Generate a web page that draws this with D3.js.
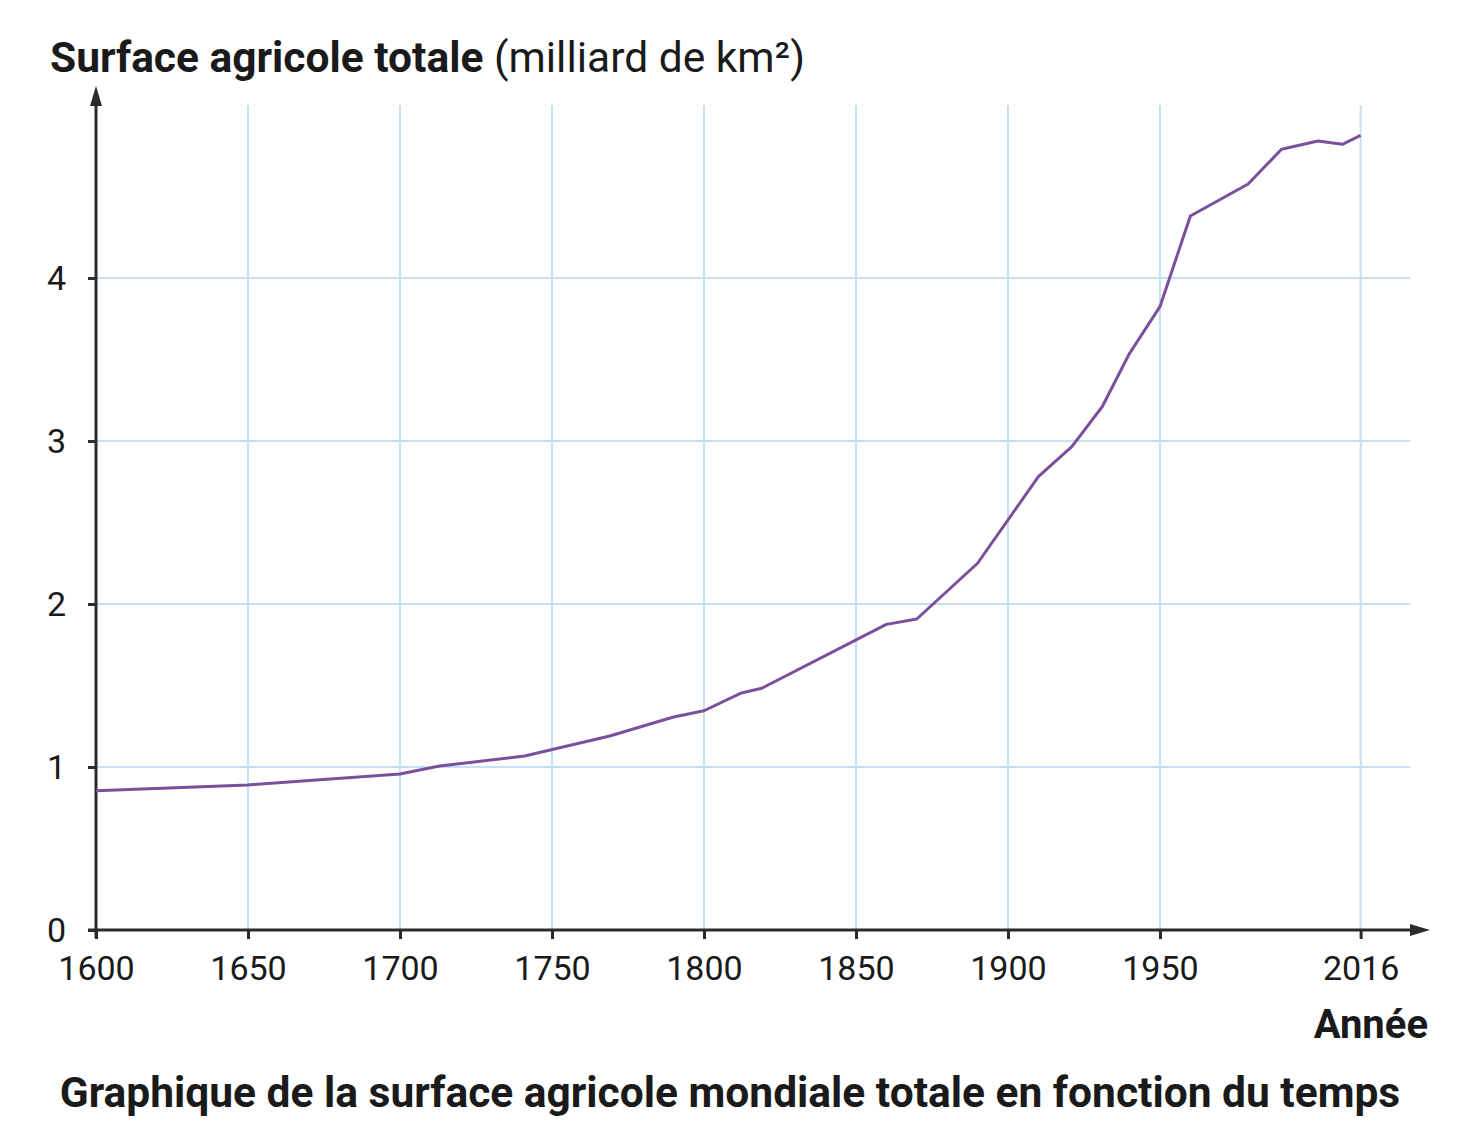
<!DOCTYPE html>
<html><head><meta charset="utf-8">
<script src="https://cdn.jsdelivr.net/npm/d3@7"></script>
<style>
body{margin:0;background:#fff;}
text{font-family:"Roboto","Liberation Sans",sans-serif;fill:#1a1a1a;}
</style></head>
<body><svg id="c" width="1460" height="1138"></svg>
<script>
const years = [1600,1650,1700,1713,1741,1769,1790,1800,1812,1819,1860,1870,1890,1910,1921,1931,1940,1950,1960,1979,1990,2002,2010,2016];
const values = [0.855,0.89,0.957,1.006,1.067,1.19,1.307,1.345,1.452,1.483,1.875,1.908,2.25,2.781,2.965,3.21,3.538,3.824,4.38,4.577,4.79,4.84,4.82,4.875];
const xTicks = [1600,1650,1700,1750,1800,1850,1900,1950,2016];
const yTicks = [0,1,2,3,4];
const titleBold = "Surface agricole totale";
const titleRegular = " (milliard de km²)";
const xLabel = "Année";
const caption = "Graphique de la surface agricole mondiale totale en fonction du temps";

const svg = d3.select("#c");
const x = d3.scaleLinear().domain([1600,2016]).range([96,1360.6]);
const y = d3.scaleLinear().domain([0,4]).range([930,278]);

// grid
const g = svg.append("g");
g.selectAll(".vg").data(xTicks.slice(1)).join("line")
  .attr("x1",d=>x(d)).attr("x2",d=>x(d)).attr("y1",105).attr("y2",930)
  .attr("stroke","#c4e0f2").attr("stroke-width",2);
g.selectAll(".hg").data(yTicks.slice(1)).join("line")
  .attr("x1",96).attr("x2",1410).attr("y1",d=>y(d)).attr("y2",d=>y(d))
  .attr("stroke","#c4e0f2").attr("stroke-width",2);

// axes
const ax = svg.append("g").attr("transform","translate(0,930)")
  .call(d3.axisBottom(x).tickValues(xTicks).tickFormat(d3.format("d")).tickSize(9).tickPadding(17));
ax.select(".domain").remove();
ax.selectAll("line").attr("stroke","#2b2b2b").attr("stroke-width",3);
ax.selectAll("text").attr("font-size",34).attr("fill","#222").attr("font-family",null);

const ay = svg.append("g").attr("transform","translate(96,0)")
  .call(d3.axisLeft(y).tickValues(yTicks).tickFormat(d3.format("d")).tickSize(9).tickPadding(21));
ay.select(".domain").remove();
ay.selectAll("line").attr("stroke","#2b2b2b").attr("stroke-width",3).attr("x2",-8);
ay.selectAll("text").attr("font-size",34).attr("fill","#222").attr("font-family",null).attr("dy","0.35em");

// axis lines with arrows
svg.append("line").attr("x1",96).attr("x2",96).attr("y1",938).attr("y2",98).attr("stroke","#2b2b2b").attr("stroke-width",3);
svg.append("path").attr("d","M96,86 L90,106 L102,106 Z").attr("fill","#2b2b2b");
svg.append("line").attr("x1",88).attr("x2",1418).attr("y1",930).attr("y2",930).attr("stroke","#2b2b2b").attr("stroke-width",3);
svg.append("path").attr("d","M1430,930 L1410,924 L1410,936 Z").attr("fill","#2b2b2b");

// line
const line = d3.line().x((d,i)=>x(years[i])).y(d=>y(d));
svg.append("path").datum(values).attr("d",line).attr("fill","none")
  .attr("stroke","#7a509c").attr("stroke-width",3).attr("stroke-linejoin","round");

// titles
const t = svg.append("text").attr("x",50).attr("y",72).attr("font-size",42.5);
t.append("tspan").attr("font-weight","bold").text(titleBold);
t.append("tspan").text(titleRegular);
svg.append("text").attr("x",1428).attr("y",1038).attr("text-anchor","end")
  .attr("font-size",40).attr("font-weight","bold").text(xLabel);
svg.append("text").attr("x",730).attr("y",1107).attr("text-anchor","middle")
  .attr("font-size",42.5).attr("font-weight","bold").text(caption);
</script></body></html>
